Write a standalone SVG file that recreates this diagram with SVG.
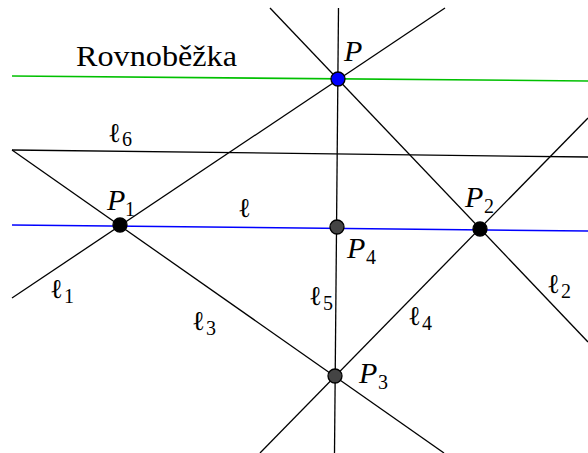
<svg xmlns="http://www.w3.org/2000/svg" width="588" height="453" viewBox="0 0 588 453">
<style>
.ln{stroke:#000;stroke-width:1.3;fill:none}
.lab{font-family:"Liberation Serif","DejaVu Serif",serif;font-style:italic;font-size:30px;fill:#000}
.ell{font-family:"DejaVu Serif","Liberation Serif",serif;font-size:27px;fill:#000}
.sub{font-family:"Liberation Serif","DejaVu Serif",serif;font-size:20px;fill:#000}
.rm{font-family:"Liberation Serif","DejaVu Serif",serif;font-size:30px;fill:#000}
.pt{stroke:#000;stroke-width:1.3}
</style>
<rect width="588" height="453" fill="#fff"/>
<g id="connectors">
<line id="rovnobezka" x1="12" y1="76" x2="588" y2="81" stroke="#00c000" stroke-width="1.6"/>
<line id="l" x1="12" y1="225" x2="588" y2="231" stroke="#0000ff" stroke-width="1.5"/>
<line id="l6" class="ln" x1="12" y1="150" x2="588" y2="157"/>
<line id="l1" class="ln" x1="12" y1="298" x2="445" y2="8"/>
<line id="l2" class="ln" x1="270" y1="8" x2="588" y2="342"/>
<line id="l3" class="ln" x1="12" y1="150" x2="444" y2="453"/>
<line id="l4" class="ln" x1="588" y1="118" x2="260" y2="453"/>
<line id="l5" class="ln" x1="338.5" y1="8" x2="334.5" y2="453"/>
</g>
<g id="label-rovnobezka"><text class="rm" x="76" y="66" textLength="161" lengthAdjust="spacingAndGlyphs">Rovnoběžka</text></g>
<g id="label-l"><text class="ell" x="238" y="217">ℓ</text></g>
<g id="label-l6"><text class="ell" x="108" y="142">ℓ</text><text class="sub" x="122" y="146">6</text></g>
<g id="label-l1"><text class="ell" x="50" y="298">ℓ</text><text class="sub" x="64" y="303">1</text></g>
<g id="label-l2"><text class="ell" x="547" y="293">ℓ</text><text class="sub" x="561" y="298">2</text></g>
<g id="label-l3"><text class="ell" x="192" y="330">ℓ</text><text class="sub" x="206" y="335">3</text></g>
<g id="label-l4"><text class="ell" x="408" y="325">ℓ</text><text class="sub" x="422" y="330">4</text></g>
<g id="label-l5"><text class="ell" x="309" y="305">ℓ</text><text class="sub" x="323" y="310">5</text></g>
<g id="node-P"><circle class="pt" cx="338" cy="79" r="7" fill="#0000ff"/><text class="lab" x="344" y="61">P</text></g>
<g id="node-P1"><circle class="pt" cx="120" cy="225" r="7" fill="#000"/><text class="lab" x="107" y="210">P</text><text class="sub" x="125" y="216">1</text></g>
<g id="node-P2"><circle class="pt" cx="480" cy="229" r="7" fill="#000"/><text class="lab" x="465" y="207">P</text><text class="sub" x="484" y="213">2</text></g>
<g id="node-P3"><circle class="pt" cx="335" cy="376" r="7" fill="#444"/><text class="lab" x="359" y="383">P</text><text class="sub" x="378" y="389">3</text></g>
<g id="node-P4"><circle class="pt" cx="337" cy="227" r="7" fill="#444"/><text class="lab" x="347" y="258">P</text><text class="sub" x="366" y="264">4</text></g>
</svg>
